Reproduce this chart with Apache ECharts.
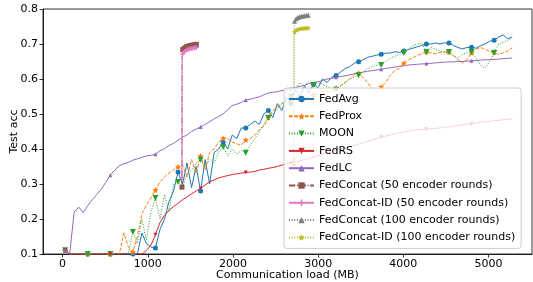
<!DOCTYPE html>
<html><head><meta charset="utf-8">
<script src="https://cdn.jsdelivr.net/npm/echarts@6/dist/echarts.min.js"></script>
<style>html,body{margin:0;padding:0;background:#fff}#c{width:533px;height:282px}</style>
</head><body><div id="c"></div><script>
// Communication load (MB) for each logged round
const loadMB = [30,83,136,189,242,295,348,401,454,507,
560,613,666,719,772,825,878,931,984,1037,
1090,1143,1196,1249,1302,1355,1408,1461,1514,1567,
1620,1673,1726,1779,1832,1885,1938,1991,2044,2097,
2150,2203,2256,2309,2362,2415,2468,2521,2574,2627,
2680,2733,2786,2839,2892,2945,2998,3051,3104,3157,
3210,3263,3316,3369,3422,3475,3528,3581,3634,3687,
3740,3793,3846,3899,3952,4005,4058,4111,4164,4217,
4270,4323,4376,4429,4482,4535,4588,4641,4694,4747,
4800,4853,4906,4959,5012,5065,5118,5171,5224,5277];

const fedAvg = [0.111,0.1,0.1,0.1,0.1,0.1,0.1,0.1,0.1,0.1,
0.1,0.1,0.1,0.1,0.1,0.1,0.1,0.16,0.13,0.12,
0.117,0.17,0.2,0.25,0.28,0.334,0.30,0.36,0.29,0.35,
0.28,0.37,0.30,0.39,0.40,0.42,0.40,0.44,0.43,0.46,
0.46,0.47,0.48,0.47,0.50,0.51,0.49,0.53,0.51,0.55,
0.53,0.57,0.55,0.58,0.56,0.585,0.575,0.60,0.59,0.605,
0.61,0.62,0.63,0.635,0.645,0.649,0.655,0.662,0.665,0.668,
0.671,0.674,0.674,0.678,0.676,0.68,0.684,0.688,0.692,0.696,
0.70,0.70,0.703,0.70,0.703,0.703,0.696,0.69,0.686,0.69,
0.691,0.688,0.695,0.70,0.708,0.711,0.72,0.726,0.715,0.72];

const fedProx = [0.111,0.1,0.1,0.1,0.1,0.1,0.1,0.1,0.1,0.1,
0.1,0.1,0.1,0.16,0.12,0.106,0.15,0.215,0.24,0.26,
0.283,0.306,0.32,0.331,0.34,0.349,0.354,0.32,0.37,0.33,
0.38,0.34,0.39,0.40,0.42,0.431,0.43,0.42,0.415,0.411,
0.426,0.43,0.44,0.455,0.465,0.49,0.51,0.52,0.53,0.535,
0.54,0.545,0.55,0.545,0.55,0.554,0.56,0.565,0.566,0.565,
0.574,0.58,0.59,0.60,0.612,0.617,0.603,0.59,0.57,0.563,
0.577,0.59,0.61,0.625,0.63,0.645,0.655,0.66,0.668,0.672,
0.677,0.675,0.672,0.676,0.678,0.677,0.668,0.655,0.646,0.655,
0.675,0.685,0.69,0.685,0.678,0.677,0.67,0.675,0.68,0.689];

const moon = [0.111,0.1,0.1,0.1,0.1,0.1,0.1,0.1,0.1,0.1,
0.1,0.1,0.1,0.1,0.1,0.163,0.13,0.2,0.14,0.22,
0.26,0.2,0.27,0.22,0.3,0.306,0.29,0.33,0.34,0.36,
0.369,0.35,0.37,0.36,0.39,0.406,0.38,0.40,0.385,0.395,
0.389,0.41,0.43,0.45,0.47,0.489,0.50,0.515,0.53,0.54,
0.55,0.57,0.59,0.58,0.595,0.583,0.59,0.585,0.578,0.572,
0.569,0.58,0.59,0.60,0.605,0.611,0.62,0.63,0.635,0.64,
0.64,0.65,0.66,0.665,0.67,0.674,0.685,0.695,0.70,0.703,
0.677,0.69,0.685,0.68,0.675,0.677,0.665,0.66,0.67,0.675,
0.677,0.66,0.64,0.631,0.65,0.674,0.70,0.705,0.71,0.717];

const fedRS = [0.111,0.1,0.1,0.1,0.1,0.1,0.1,0.1,0.1,0.1,
0.1,0.1,0.1,0.1,0.1,0.1,0.1,0.1,0.11,0.125,
0.155,0.19,0.21,0.225,0.235,0.245,0.255,0.263,0.272,0.28,
0.287,0.297,0.306,0.312,0.317,0.321,0.324,0.327,0.329,0.331,
0.333,0.334,0.336,0.34,0.342,0.345,0.347,0.35,0.354,0.357,
0.36,0.363,0.366,0.369,0.373,0.377,0.381,0.385,0.389,0.393,
0.397,0.40,0.403,0.406,0.41,0.414,0.418,0.422,0.426,0.43,
0.434,0.437,0.44,0.443,0.446,0.449,0.451,0.453,0.455,0.456,
0.457,0.458,0.459,0.46,0.462,0.463,0.465,0.467,0.469,0.471,
0.472,0.474,0.477,0.478,0.479,0.481,0.482,0.484,0.485,0.486];

const fedLC = [0.111,0.1,0.22,0.234,0.218,0.238,0.255,0.27,0.285,0.305,
0.325,0.34,0.352,0.358,0.362,0.368,0.372,0.376,0.38,0.382,
0.385,0.395,0.401,0.41,0.416,0.425,0.434,0.44,0.45,0.457,
0.463,0.47,0.478,0.486,0.493,0.50,0.513,0.524,0.528,0.533,
0.54,0.542,0.546,0.549,0.555,0.56,0.562,0.564,0.567,0.569,
0.573,0.576,0.579,0.582,0.587,0.59,0.592,0.596,0.60,0.602,
0.605,0.607,0.609,0.612,0.615,0.617,0.62,0.622,0.624,0.626,
0.628,0.63,0.632,0.634,0.636,0.638,0.64,0.641,0.642,0.643,
0.644,0.645,0.646,0.647,0.648,0.649,0.649,0.65,0.65,0.651,
0.652,0.653,0.654,0.655,0.655,0.656,0.657,0.658,0.659,0.66];

const concat50Load = [1401,1403,1410,1420,1430,1440,1450,1460,1470,1480,1490,1500,1510,1520,1530,1540,1550,1560,1570,1583];
const concat50 = [0.291,0.665,0.684,0.690,0.688,0.694,0.692,0.697,0.693,0.698,0.695,0.699,0.696,0.700,0.697,0.701,0.698,0.701,0.699,0.702];
const concatId50 = [0.317,0.655,0.672,0.680,0.678,0.684,0.682,0.687,0.684,0.689,0.686,0.690,0.687,0.691,0.688,0.692,0.689,0.692,0.690,0.693];
const concat100Load = [2714,2716,2723,2733,2743,2753,2763,2773,2783,2793,2803,2813,2823,2833,2843,2853,2863,2873,2883,2896];
const concat100 = [0.357,0.74,0.765,0.775,0.772,0.779,0.776,0.781,0.778,0.782,0.779,0.783,0.780,0.784,0.781,0.784,0.782,0.785,0.782,0.785];
const concatId100 = [0.37,0.72,0.735,0.741,0.739,0.744,0.742,0.745,0.743,0.746,0.744,0.747,0.745,0.747,0.745,0.748,0.746,0.748,0.746,0.748];

const seriesNames = ['FedAvg','FedProx','MOON','FedRS','FedLC',
  'FedConcat (50 encoder rounds)','FedConcat-ID (50 encoder rounds)',
  'FedConcat (100 encoder rounds)','FedConcat-ID (100 encoder rounds)'];
const xTicks = [0,1000,2000,3000,4000,5000];
const yTicks = [0.1,0.2,0.3,0.4,0.5,0.6,0.7,0.8];

const STAR = 'path://M0,-10L2.9,-4L9.5,-3.1L4.7,1.5L5.9,8.1L0,5L-5.9,8.1L-4.7,1.5L-9.5,-3.1L-2.9,-4Z';
const PLUS = 'path://M-1.5,-6H1.5V-1.5H6V1.5H1.5V6H-1.5V1.5H-6V-1.5H-1.5Z';

function pts(xs, ys, every){
  return ys.map((y,i)=>{ const d={value:[xs[i],y]}; if(i%every!==0) d.symbol='none'; return d; });
}
function mk(name, xs, ys, color, dash, symbol, size, every, rotate){
  return {
    name, type:'line', data:pts(xs, ys, every), symbol, symbolSize:size, symbolRotate:rotate||0,
    showAllSymbol:true, animation:false,
    lineStyle:{color, width:1, type:dash},
    itemStyle:{color, borderWidth:0}
  };
}

const series = [
  mk(seriesNames[0], loadMB, fedAvg, '#1f77b4', 'solid', 'circle', 5, 5),
  mk(seriesNames[1], loadMB, fedProx, '#ff7f0e', [3.7,1.6], STAR, 6, 5),
  mk(seriesNames[2], loadMB, moon, '#2ca02c', [1,1.65], 'triangle', 6, 5, 180),
  mk(seriesNames[3], loadMB, fedRS, '#d62728', 'solid', 'triangle', 4, 10, 180),
  mk(seriesNames[4], loadMB, fedLC, '#9467bd', 'solid', 'triangle', 4, 10),
  mk(seriesNames[5], concat50Load, concat50, '#8c564b', [6.4,1.6,1,1.6], 'rect', 5, 2),
  mk(seriesNames[6], concat50Load, concatId50, '#e377c2', 'solid', PLUS, 5, 2),
  mk(seriesNames[7], concat100Load, concat100, '#7f7f7f', [1,1.65], 'triangle', 5, 2),
  mk(seriesNames[8], concat100Load, concatId100, '#bcbd22', [1,1.65], STAR, 5, 2)
];

const font = 'DejaVu Sans';
const chart = echarts.init(document.getElementById('c'), null, {renderer:'canvas'});
chart.setOption({
  animation:false,
  backgroundColor:'#fff',
  grid:{left:43, right:1, top:9, bottom:28, containLabel:false, outerBoundsMode:'none',
        show:true, borderColor:'#000', borderWidth:0.8, backgroundColor:'transparent'},
  xAxis:{
    type:'value', min:-230, max:5510,
    name:'Communication load (MB)', nameLocation:'middle', nameGap:16, nameMoveOverlap:false,
    nameTextStyle:{fontFamily:font, fontSize:11, color:'#000', verticalAlign:'top'},
    axisLine:{show:true, onZero:false, lineStyle:{color:'#000', width:0.8}},
    axisTick:{show:true, length:3.5, lineStyle:{color:'#000', width:0.8}, customValues:xTicks},
    axisLabel:{fontFamily:font, fontSize:11, color:'#000', margin:5, customValues:xTicks, formatter:v=>String(v)},
    splitLine:{show:false}
  },
  yAxis:{
    type:'value', min:0.1, max:0.8,
    name:'Test acc', nameLocation:'middle', nameGap:23, nameRotate:90, nameMoveOverlap:false,
    nameTextStyle:{fontFamily:font, fontSize:11, color:'#000'},
    axisLine:{show:true, onZero:false, lineStyle:{color:'#000', width:0.8}},
    axisTick:{show:true, length:3.5, lineStyle:{color:'#000', width:0.8}, customValues:yTicks},
    axisLabel:{fontFamily:font, fontSize:11, color:'#000', margin:5, customValues:yTicks, formatter:v=>v.toFixed(1)},
    splitLine:{show:false}
  },
  legend:{
    data:seriesNames, orient:'vertical', left:284, top:88,
    itemWidth:25, itemHeight:8, itemGap:3.3,
    padding:[4,6,4,4],
    backgroundColor:'rgba(255,255,255,0.8)', borderColor:'#cccccc', borderWidth:1, borderRadius:3,
    textStyle:{fontFamily:font, fontSize:11, color:'#000', lineHeight:14},
    selectedMode:false
  },
  series
});
</script></body></html>
